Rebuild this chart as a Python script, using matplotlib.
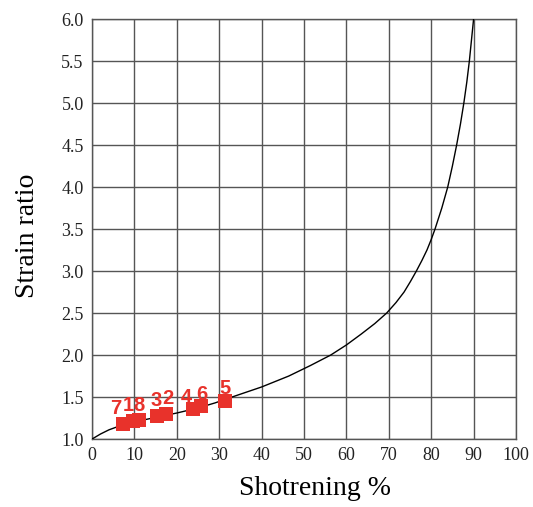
import matplotlib
matplotlib.use("Agg")
import matplotlib.pyplot as plt

# curve (shortening %, strain ratio)
curve_x = [0, 2, 4, 7, 10, 14.3, 20, 25, 29, 33, 40, 46.4, 51.5, 56.3, 60, 63.5,
           66.7, 69.5, 71.7, 73.6, 75.1, 76.5, 77.8, 79.0, 80.0, 80.9, 82.5, 83.9,
           85.0, 86.0, 86.9, 87.7, 88.4, 89.0, 89.5, 90.0]
curve_y = [1.00, 1.06, 1.11, 1.165, 1.205, 1.25, 1.31, 1.37, 1.43, 1.50, 1.62, 1.75,
           1.875, 2.00, 2.12, 2.25, 2.375, 2.50, 2.625, 2.75, 2.875, 3.00, 3.125,
           3.25, 3.375, 3.50, 3.75, 4.00, 4.25, 4.50, 4.75, 5.00, 5.25, 5.50, 5.75,
           6.00]

# samples
labels = ["7", "1", "8", "3", "2", "4", "6", "5"]
samp_x = [7.2, 9.6, 11.0, 15.4, 17.5, 23.8, 25.8, 31.3]
samp_y = [1.18, 1.22, 1.23, 1.28, 1.30, 1.36, 1.39, 1.45]

# label offsets in pixels
label_dx = [-7, -4, 0, -1, 2, -7, 0, 0]
label_dy = [15, 15, 14, 15, 15, 11, 12, 13]

fig = plt.figure(figsize=(5.33, 5.07), dpi=100)
ax = fig.add_axes([0.1726, 0.134, 0.7955, 0.8285])

ax.plot(curve_x, curve_y, color="black", lw=1.0, zorder=3)
ax.scatter(samp_x, samp_y, marker="s", s=90, color="#e8322b", zorder=4, linewidths=0)
for lab, x, y, dx, dy in zip(labels, samp_x, samp_y, label_dx, label_dy):
    ax.annotate(lab, (x, y), textcoords="offset pixels", xytext=(dx, dy),
                ha="center", va="center", color="#e8322b", fontsize=14.5,
                fontweight="bold", family="Liberation Sans", zorder=5)

ax.set_xlim(0, 100)
ax.set_ylim(1.0, 6.0)
ax.set_xticks(range(0, 101, 10))
ax.set_yticks([1.0 + 0.5 * i for i in range(11)])
ax.set_yticklabels(["%.1f" % (1.0 + 0.5 * i) for i in range(11)])
ax.grid(True, color="#555555", lw=1.0)
ax.set_axisbelow(True)
for s in ax.spines.values():
    s.set_color("#555555")
    s.set_linewidth(1.0)
ax.tick_params(length=0, pad=6, labelsize=13, labelcolor="#222222")
for t in ax.get_xticklabels() + ax.get_yticklabels():
    t.set_family("Liberation Serif")

ax.set_xlabel("Shotrening %", family="Liberation Serif", fontsize=20, labelpad=8)
ax.set_ylabel("Strain ratio", family="Liberation Serif", fontsize=20, labelpad=15)
ax.xaxis.label.set_x(0.525)
ax.yaxis.label.set_y(0.485)

fig.savefig("out.png", dpi=100)
